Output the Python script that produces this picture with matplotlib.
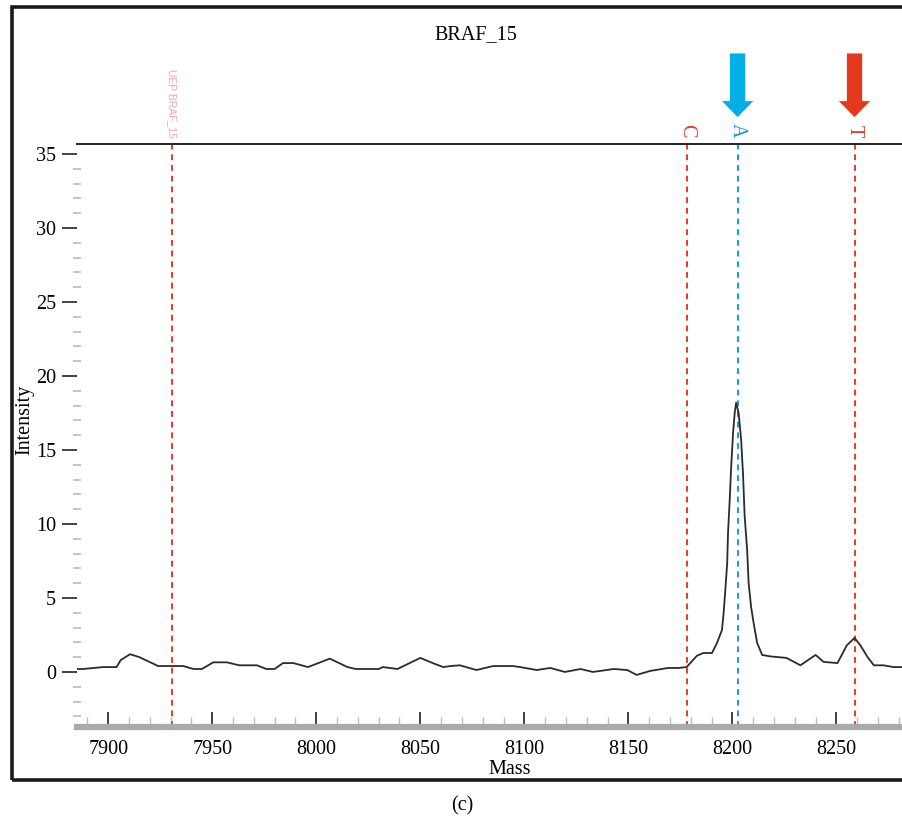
import matplotlib
matplotlib.use("Agg")
import matplotlib.pyplot as plt
from matplotlib.patches import Rectangle
from matplotlib.ticker import MultipleLocator

plt.rcParams['font.family'] = ['Liberation Serif', 'DejaVu Serif']

### spectrum
mass = [7885, 7888, 7897.5, 7904, 7906, 7910.5, 7915, 7924, 7936, 7941, 7945,
        7950.5, 7957, 7963, 7971.5, 7976, 7980, 7984, 7989, 7996, 8006.5, 8015,
        8019, 8030, 8032, 8039, 8050, 8056, 8061, 8064.5, 8069, 8077, 8085,
        8094.5, 8098, 8106, 8112.5, 8119.5, 8127, 8133, 8143, 8149.5, 8154,
        8160.5, 8169, 8174, 8178, 8183, 8186, 8190.2, 8192.6, 8195.0, 8195.8,
        8196.6, 8197.5, 8197.9, 8198.7, 8199.4, 8200.3, 8201.1, 8201.8,
        8203.0, 8204.2, 8205.1, 8205.9, 8207.1, 8207.8, 8209.0, 8210.2,
        8211.9, 8214.3, 8218.3, 8226, 8232.7, 8240, 8243.8, 8250.5, 8255,
        8258.7, 8261.5, 8265, 8268, 8272.6, 8277.4, 8282]
intensity = [0.2, 0.2, 0.33, 0.33, 0.8, 1.2, 1.0, 0.4, 0.4, 0.2, 0.2,
             0.65, 0.65, 0.45, 0.45, 0.2, 0.2, 0.6, 0.6, 0.33, 0.9, 0.33,
             0.2, 0.2, 0.33, 0.2, 0.95, 0.6, 0.33, 0.4, 0.45, 0.13, 0.4,
             0.4, 0.33, 0.13, 0.27, 0.0, 0.2, 0.0, 0.2, 0.13, -0.2,
             0.07, 0.27, 0.27, 0.33, 1.1, 1.28, 1.28, 1.96, 2.84, 4.0,
             5.54, 7.36, 9.39, 11.6, 13.8, 16.1, 17.5, 18.2,
             17.5, 15.7, 13.4, 10.5, 8.24, 6.01, 4.39, 3.31,
             1.96, 1.15, 1.05, 0.95, 0.45, 1.15, 0.68, 0.6, 1.8,
             2.3, 1.8, 1.0, 0.45, 0.45, 0.33, 0.33]

# expected peaks (primer + alleles)
uep_mass = 7930.8
uep_label = 'UEP BRAF_15'
allele_mass = [8178, 8202.5, 8258.7]
allele_label = ['C', 'A', 'T']
allele_color = ['#e8392a', '#1a9ad6', '#e8392a']
# called alleles get a big arrow
arrow_mass = [8202.5, 8258.7]
arrow_color = ['#00aee8', '#e5391e']

red = '#e8392a'

fig = plt.figure(figsize=(9.03, 8.18), dpi=100)
ax = fig.add_axes([77/903, 1-727/818, 1-77/903, (727-144)/818])

ax.plot(mass, intensity, color='#2b2b2b', lw=1.3, zorder=3)

ax.set_xlim(7885, 8282)
ax.set_ylim(-3.72, 35.68)

# dashed marker lines
ax.axvline(uep_mass, color=red, ls=(0, (3, 2.5)), lw=1.4, zorder=2)
ax.text(uep_mass, 36.1, uep_label, rotation=-90, ha='center', va='bottom',
        fontsize=7.5, color='#f4a3a3', family='Liberation Sans', clip_on=False)
for m, lab, c in zip(allele_mass, allele_label, allele_color):
    ax.axvline(m, color=c, ls=(0, (3, 2.5)), lw=1.4, zorder=2)
    ax.text(m, 36.15, lab, rotation=-90, ha='center', va='bottom',
            fontsize=14.5, color=c, clip_on=False)

for m, c in zip(arrow_mass, arrow_color):
    ax.annotate('', xy=(m, 37.5), xytext=(m, 41.8), annotation_clip=False,
                arrowprops=dict(arrowstyle='simple,head_length=1.15,head_width=2.25,tail_width=1.1',
                                mutation_scale=10, color=c, lw=0,
                                shrinkA=0, shrinkB=0))

# axes look
ax.spines['left'].set_visible(False)
ax.spines['right'].set_visible(False)
ax.spines['top'].set_color('#222222')
ax.spines['top'].set_linewidth(1.4)
ax.spines['bottom'].set_color('#aaaaaa')
ax.spines['bottom'].set_linewidth(4.5)

ax.xaxis.set_major_locator(MultipleLocator(50))
ax.xaxis.set_minor_locator(MultipleLocator(10))
ax.yaxis.set_major_locator(MultipleLocator(5))
ax.yaxis.set_minor_locator(MultipleLocator(1))
ax.tick_params(axis='x', which='major', direction='in', length=11, width=1.2,
               color='#222222', labelsize=14.5, pad=9)
ax.tick_params(axis='x', which='minor', direction='in', length=7, width=1,
               color='#bbbbbb')
ax.tick_params(axis='y', which='major', direction='out', length=11, width=1.2,
               color='#222222', labelsize=14.5, pad=4)
ax.tick_params(axis='y', which='minor', direction='inout', length=6, width=1.2,
               color='#bbbbbb')

fig.text(476/903, 1-35/818, 'BRAF_15', ha='center', va='center', fontsize=14.5)
fig.text(510/903, 1-770/818, 'Mass', ha='center', va='center', fontsize=14.5)
fig.text(25/903, 1-420/818, 'Intensity', ha='center', va='center',
         rotation=90, fontsize=14.5)
fig.text(462/903, 1-806/818, '(c)', ha='center', va='center', fontsize=14.5)

# outer frame of the screenshot
fig.patches.append(Rectangle((12/903, 1-780/818), 1.0, (780-7)/818,
                             transform=fig.transFigure, fill=False,
                             edgecolor='#1a1a1a', lw=2.6))

plt.savefig('out.png', dpi=100)
